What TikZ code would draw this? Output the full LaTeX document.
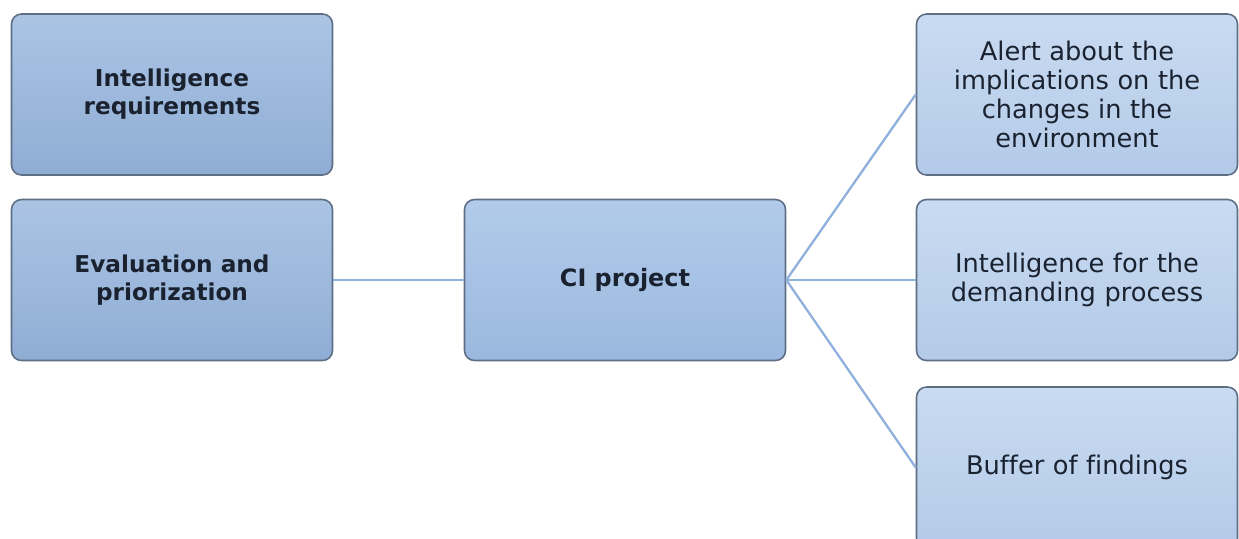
\documentclass[tikz,border=0pt]{standalone}
\usepackage{fontspec}
\setmainfont[Ligatures=NoCommon]{DejaVu Sans}
\usetikzlibrary{positioning}
\definecolor{edgeC}{HTML}{5E6E84}
\definecolor{lineC}{HTML}{8FB0DC}
\definecolor{ltop}{HTML}{ABC4E4}
\definecolor{lbot}{HTML}{8FADD4}
\definecolor{ctop}{HTML}{B2CBEA}
\definecolor{cbot}{HTML}{9AB8DE}
\definecolor{rtop}{HTML}{C9DBF1}
\definecolor{rbot}{HTML}{B3CAE8}
\definecolor{txtC}{HTML}{1A2230}
\tikzset{
  boxbase/.style={draw=edgeC, line width=0.9pt, rounded corners=0.2cm, minimum width=6.42cm, minimum height=3.22cm, align=center, text=txtC, inner sep=0pt},
  lbox/.style={boxbase, top color=ltop, bottom color=lbot, font=\fontsize{13.2}{16}\selectfont\bfseries},
  cbox/.style={boxbase, top color=ctop, bottom color=cbot, font=\fontsize{13.6}{16}\selectfont\bfseries},
  rbox/.style={boxbase, top color=rtop, bottom color=rbot, text width=6.2cm, font=\fontsize{14.6}{16.6}\selectfont},
  conn/.style={draw=lineC, line width=1.3pt}
}
\begin{document}
\begin{tikzpicture}
\useasboundingbox (0,0) rectangle (24.78,-10.76);
\clip (0,0) rectangle (24.78,-10.76);
\node[lbox] (ir) at (3.44,-1.89) {Intelligence\\requirements};
\node[lbox] (ep) at (3.44,-5.6) {Evaluation and\\priorization};
\node[cbox] (ci) at (12.5,-5.6) {CI project};
\node[rbox] (al) at (21.54,-1.89) {Alert about the\\implications on the\\changes in the\\environment};
\node[rbox] (id) at (21.54,-5.6) {Intelligence for the\\demanding process};
\node[rbox] (bf) at (21.54,-9.35) {Buffer of findings};
\draw[conn] (ep.east) -- (ci.west);
\draw[conn] (ci.east) -- (al.west);
\draw[conn] (ci.east) -- (id.west);
\draw[conn] (ci.east) -- (bf.west);
\end{tikzpicture}
\end{document}
